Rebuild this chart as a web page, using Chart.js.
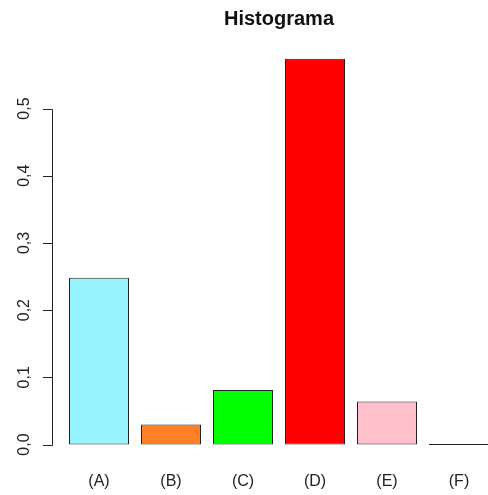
<!DOCTYPE html>
<html>
<head>
<meta charset="utf-8">
<script src="https://cdn.jsdelivr.net/npm/chart.js@4/dist/chart.umd.min.js"></script>
<style>
  html, body { margin: 0; padding: 0; background: #fff; }
  #wrap { width: 488px; height: 495px; overflow: hidden; position: relative; }
  canvas { display: block; }
</style>
</head>
<body>
<div id="wrap"><canvas id="myChart" width="520" height="495"></canvas></div>
<script>
/* data */
const categories = ['(A)', '(B)', '(C)', '(D)', '(E)', '(F)'];
const frequencies = [0.248, 0.03, 0.081, 0.574, 0.064, 0];
const yTicks = [0, 0.1, 0.2, 0.3, 0.4, 0.5];
const yTickLabels = ['0,0', '0,1', '0,2', '0,3', '0,4', '0,5'];

const barColors = ['#98F5FF', '#FF7F24', '#00FF00', '#FF0000', '#FFC0CB', '#FFFFFF'];
const fontFamily = '"Liberation Sans", Arial, sans-serif';

/* R style y axis: line, ticks, rotated labels */
const rAxis = {
  id: 'rAxis',
  afterDraw(chart) {
    const ctx = chart.ctx;
    const y = chart.scales.y;
    const axisX = 52, tickLen = 9;
    ctx.save();
    ctx.strokeStyle = '#222';
    ctx.lineWidth = 1;
    ctx.beginPath();
    ctx.moveTo(axisX + 0.5, Math.round(y.getPixelForValue(yTicks[0])) + 0.5);
    ctx.lineTo(axisX + 0.5, Math.round(y.getPixelForValue(yTicks[yTicks.length - 1])) + 0.5);
    yTicks.forEach(v => {
      const py = Math.round(y.getPixelForValue(v)) + 0.5;
      ctx.moveTo(axisX - tickLen, py);
      ctx.lineTo(axisX + 0.5, py);
    });
    ctx.stroke();

    ctx.fillStyle = '#222';
    ctx.font = '16px ' + fontFamily;
    ctx.textAlign = 'center';
    ctx.textBaseline = 'middle';
    yTicks.forEach((v, i) => {
      ctx.save();
      ctx.translate(25, y.getPixelForValue(v));
      ctx.rotate(-Math.PI / 2);
      ctx.fillText(yTickLabels[i], 0, 0);
      ctx.restore();
    });
    ctx.restore();
  }
};

const ctx = document.getElementById('myChart').getContext('2d');
const myChart = new Chart(ctx, {
  type: 'bar',
  data: {
    labels: categories,
    datasets: [{
      data: frequencies,
      backgroundColor: barColors,
      borderColor: '#222',
      borderWidth: 1,
      borderSkipped: false,
      minBarLength: 1,
      barPercentage: 60 / 72,
      categoryPercentage: 1
    }]
  },
  options: {
    responsive: false,
    animation: false,
    layout: { padding: { left: 63, right: 25, top: 0, bottom: 0 } },
    plugins: {
      legend: { display: false },
      tooltip: { enabled: false },
      title: {
        display: true,
        text: 'Histograma',
        color: '#111',
        font: { family: fontFamily, size: 20, weight: 'bold' },
        padding: { top: 7, bottom: 13 }
      }
    },
    scales: {
      x: {
        grid: { display: false, drawTicks: false },
        border: { display: false },
        ticks: {
          color: '#222',
          font: { family: fontFamily, size: 16 },
          padding: 12,
          maxRotation: 0
        },
        afterFit(scale) { scale.height = 35; }
      },
      y: {
        display: false,
        min: -0.023,
        max: 0.596
      }
    }
  },
  plugins: [rAxis]
});
</script>
</body>
</html>
